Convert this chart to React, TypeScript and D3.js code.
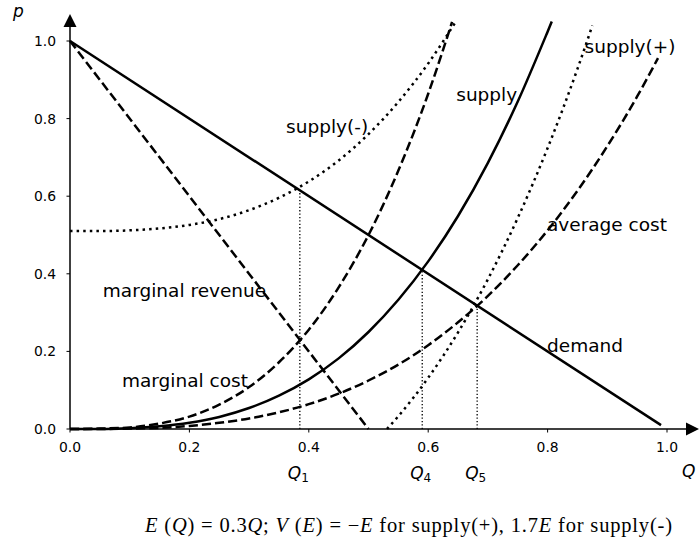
import React from 'react';
import * as d3 from 'd3';

const width = 699;
const height = 544;
const margin = { top: 41, left: 70 };

// Q from 0 upward, p
const supplyQ = [0, 0.05, 0.1, 0.15, 0.2, 0.25, 0.3, 0.35, 0.4, 0.45, 0.5, 0.55, 0.6, 0.65, 0.7, 0.75, 0.8, 0.807];
const supplyP = [0, 0, 0.002, 0.007, 0.016, 0.031, 0.054, 0.086, 0.128, 0.182, 0.25, 0.333, 0.432, 0.549, 0.686, 0.844, 1.024, 1.05];

const mcQ = [0, 0.05, 0.1, 0.15, 0.2, 0.25, 0.3, 0.35, 0.4, 0.45, 0.5, 0.55, 0.6, 0.64];
const mcP = [0, 0.001, 0.004, 0.014, 0.032, 0.063, 0.108, 0.172, 0.256, 0.365, 0.5, 0.666, 0.864, 1.049];

const acQ = [0, 0.05, 0.1, 0.15, 0.2, 0.25, 0.3, 0.35, 0.4, 0.45, 0.5, 0.55, 0.6, 0.65, 0.7, 0.75, 0.8, 0.85, 0.9, 0.95, 0.985];
const acP = [0, 0, 0.001, 0.003, 0.008, 0.016, 0.027, 0.043, 0.064, 0.091, 0.125, 0.166, 0.216, 0.275, 0.343, 0.422, 0.512, 0.614, 0.729, 0.857, 0.956];

const supplyMinusQ = [0, 0.05, 0.1, 0.15, 0.2, 0.25, 0.3, 0.35, 0.4, 0.45, 0.5, 0.55, 0.6, 0.645];
const supplyMinusP = [0.51, 0.51, 0.512, 0.517, 0.526, 0.541, 0.564, 0.596, 0.638, 0.692, 0.76, 0.843, 0.942, 1.047];

const supplyPlusQ = [0.531, 0.55, 0.6, 0.65, 0.7, 0.75, 0.8, 0.85, 0.875];
const supplyPlusP = [0, 0.033, 0.132, 0.249, 0.386, 0.544, 0.724, 0.928, 1.04];

const demandQ = [0, 0.99];
const demandP = [1, 0.01];
const mrQ = [0, 0.5];
const mrP = [1, 0];

// equilibrium quantities with their prices on the demand line
const markQ = [0.385, 0.59, 0.682];
const markP = [0.615, 0.41, 0.318];
const markSub = ['1', '4', '5'];

const ticks = [0, 0.2, 0.4, 0.6, 0.8, 1.0];

const labels = [
  { text: 'supply(+)', q: 0.862, p: 0.97 },
  { text: 'supply', q: 0.647, p: 0.845 },
  { text: 'supply(-)', q: 0.362, p: 0.763 },
  { text: 'average cost', q: 0.799, p: 0.51 },
  { text: 'marginal revenue', q: 0.055, p: 0.34 },
  { text: 'demand', q: 0.799, p: 0.198 },
  { text: 'marginal cost', q: 0.087, p: 0.108 },
];

const x = d3.scaleLinear().domain([0, 1]).range([margin.left, 667]);
const y = d3.scaleLinear().domain([0, 1]).range([429, margin.top]);

const line = d3.line<[number, number]>()
  .x(d => x(d[0]))
  .y(d => y(d[1]))
  .curve(d3.curveMonotoneX);

const zip = (qs: number[], ps: number[]) => qs.map((q, i) => [q, ps[i]] as [number, number]);

const font = 'DejaVu Sans, sans-serif';

function App() {
  const lw = 2.5;
  const dash = '9.2 4';
  const dot = '2.5 4.1';
  const curves = [
    { d: zip(demandQ, demandP), s: undefined },
    { d: zip(mrQ, mrP), s: dash },
    { d: zip(supplyQ, supplyP), s: undefined },
    { d: zip(mcQ, mcP), s: dash },
    { d: zip(acQ, acP), s: dash },
    { d: zip(supplyMinusQ, supplyMinusP), s: dot },
    { d: zip(supplyPlusQ, supplyPlusP), s: dot },
  ];
  const y0 = y(0);
  const x0 = x(0);

  return (
    <svg width={width} height={height} style={{ position: 'absolute', left: 0, top: 0, background: '#fff' }}>
      {/* spines with arrows */}
      <line x1={x0} y1={y0} x2={x0} y2={26} stroke="#000" strokeWidth={1.5} />
      <path d={`M${x0},14 L${x0 - 6.5},27 L${x0 + 6.5},27 Z`} fill="#000" />
      <line x1={x0} y1={y0} x2={687} y2={y0} stroke="#000" strokeWidth={1.5} />
      <path d={`M699,${y0} L686,${y0 - 6.5} L686,${y0 + 6.5} Z`} fill="#000" />

      {ticks.map(t => (
        <g key={'x' + t}>
          <line x1={x(t)} x2={x(t)} y1={y0} y2={y0 + 3.5} stroke="#000" strokeWidth={1} />
          <text x={x(t)} y={452} textAnchor="middle" fontFamily={font} fontSize={13.9}>{t.toFixed(1)}</text>
        </g>
      ))}
      {ticks.map(t => (
        <g key={'y' + t}>
          <line x1={x0} x2={x0 - 3.5} y1={y(t)} y2={y(t)} stroke="#000" strokeWidth={1} />
          <text x={56} y={y(t) + 5} textAnchor="end" fontFamily={font} fontSize={13.9}>{t.toFixed(1)}</text>
        </g>
      ))}

      {markQ.map((q, i) => (
        <line key={'m' + i} x1={x(q)} x2={x(q)} y1={y0} y2={y(markP[i])}
          stroke="#000" strokeWidth={1.3} strokeDasharray="1.3 2.1" />
      ))}

      {curves.map((c, i) => (
        <path key={i} d={line(c.d) || ''} fill="none" stroke="#000" strokeWidth={lw}
          strokeDasharray={c.s} />
      ))}

      {labels.map(l => (
        <text key={l.text} x={x(l.q)} y={y(l.p)} fontFamily={font} fontSize={18.5}>{l.text}</text>
      ))}

      {markQ.map((q, i) => (
        <text key={'q' + i} x={x(q) - 12} y={479} fontFamily={font} fontSize={17} fontStyle="italic">
          Q<tspan fontSize={12} fontStyle="normal" dy={3}>{markSub[i]}</tspan>
        </text>
      ))}
      <text x={682} y={477} fontFamily={font} fontSize={17} fontStyle="italic">Q</text>
      <text x={13} y={17} fontFamily={font} fontSize={17} fontStyle="italic">p</text>

      <text x={145} y={532} fontFamily="Liberation Serif, serif" fontSize={20.5} textLength={527} lengthAdjust="spacing">
        <tspan fontStyle="italic">E</tspan> (<tspan fontStyle="italic">Q</tspan>) = 0.3<tspan fontStyle="italic">Q</tspan>;
        {' '}<tspan fontStyle="italic">V</tspan> (<tspan fontStyle="italic">E</tspan>) = −<tspan fontStyle="italic">E</tspan> for supply(+), 1.7<tspan fontStyle="italic">E</tspan> for supply(-)
      </text>
    </svg>
  );
}

export default App;
